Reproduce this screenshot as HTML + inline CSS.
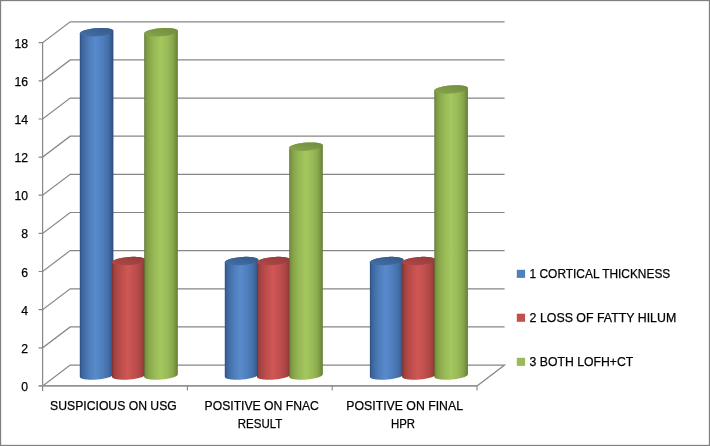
<!DOCTYPE html>
<html><head><meta charset="utf-8"><title>Chart</title>
<style>html,body{margin:0;padding:0;background:#fff;overflow:hidden}</style></head>
<body>
<svg width="710" height="446" viewBox="0 0 710 446" style="display:block">
<defs>
<linearGradient id="gb" x1="0" x2="1" y1="0" y2="0">
<stop offset="0" stop-color="#2a4b7a"/><stop offset="0.05" stop-color="#3a6199"/><stop offset="0.15" stop-color="#4570aa"/><stop offset="0.3" stop-color="#4f7fbd"/><stop offset="0.47" stop-color="#598acb"/><stop offset="0.7" stop-color="#4d7cba"/><stop offset="0.86" stop-color="#426da5"/><stop offset="0.95" stop-color="#365a8e"/><stop offset="1" stop-color="#2a4b7a"/>
</linearGradient>
<linearGradient id="gr" x1="0" x2="1" y1="0" y2="0">
<stop offset="0" stop-color="#782f2d"/><stop offset="0.05" stop-color="#9a3f3d"/><stop offset="0.15" stop-color="#ad4745"/><stop offset="0.3" stop-color="#c04f4d"/><stop offset="0.47" stop-color="#d05755"/><stop offset="0.7" stop-color="#bd4e4c"/><stop offset="0.86" stop-color="#a84543"/><stop offset="0.95" stop-color="#903a38"/><stop offset="1" stop-color="#782f2d"/>
</linearGradient>
<linearGradient id="gg" x1="0" x2="1" y1="0" y2="0">
<stop offset="0" stop-color="#5e7533"/><stop offset="0.05" stop-color="#7a9643"/><stop offset="0.15" stop-color="#89a84c"/><stop offset="0.3" stop-color="#98b956"/><stop offset="0.5" stop-color="#a4c75e"/><stop offset="0.7" stop-color="#99ba57"/><stop offset="0.86" stop-color="#87a64b"/><stop offset="0.95" stop-color="#738d3f"/><stop offset="1" stop-color="#5e7533"/>
</linearGradient>
<linearGradient id="tb" x1="0" x2="1" y1="1" y2="0"><stop offset="0" stop-color="#4470a8"/><stop offset="1" stop-color="#355988"/></linearGradient>
<linearGradient id="tr" x1="0" x2="1" y1="1" y2="0"><stop offset="0" stop-color="#b04a48"/><stop offset="1" stop-color="#923b39"/></linearGradient>
<linearGradient id="tg" x1="0" x2="1" y1="1" y2="0"><stop offset="0" stop-color="#87a64b"/><stop offset="1" stop-color="#708a3d"/></linearGradient>
</defs>
<rect x="0" y="0" width="710" height="446" fill="#fff"/>
<g fill="none" stroke="#868686" stroke-width="1.2">
<path d="M38.6 347.8H42.6L70.2 326.9H504.6"/>
<path d="M38.6 309.7H42.6L70.2 288.8H504.6"/>
<path d="M38.6 271.5H42.6L70.2 250.6H504.6"/>
<path d="M38.6 233.4H42.6L70.2 212.5H504.6"/>
<path d="M38.6 195.2H42.6L70.2 174.3H504.6"/>
<path d="M38.6 157.1H42.6L70.2 136.2H504.6"/>
<path d="M38.6 119.0H42.6L70.2 98.1H504.6"/>
<path d="M38.6 80.8H42.6L70.2 59.9H504.6"/>
<path d="M38.6 42.7H42.6L70.2 21.8H504.6"/>
<path d="M42.6 385.9L70.2 365.1H504.6L477.0 385.9"/>
<path d="M42.6 390.9V42.7"/>
</g>
<path d="M79.80 376.74L79.85 377.05L80.01 377.36L80.26 377.65L80.62 377.93L81.08 378.20L81.63 378.45L82.28 378.68L83.01 378.89L83.83 379.08L84.72 379.25L85.69 379.39L86.73 379.52L87.82 379.61L88.97 379.68L90.17 379.73L91.41 379.75L92.68 379.74L93.97 379.71L95.28 379.65L96.60 379.57L97.92 379.46L99.23 379.32L100.52 379.17L101.79 378.99L103.03 378.78L104.23 378.56L105.38 378.32L106.47 378.06L107.51 377.79L108.48 377.50L109.37 377.20L110.19 376.89L110.92 376.57L111.57 376.24L112.12 375.91L112.58 375.58L112.94 375.25L113.19 374.91L113.35 374.59L113.40 374.26L113.40 31.00L113.35 30.69L113.19 30.38L112.94 30.09L112.58 29.81L112.12 29.54L111.57 29.29L110.92 29.06L110.19 28.85L109.37 28.66L108.48 28.49L107.51 28.35L106.47 28.22L105.38 28.13L104.23 28.06L103.03 28.01L101.79 27.99L100.52 28.00L99.23 28.03L97.92 28.09L96.60 28.17L95.28 28.28L93.97 28.42L92.68 28.57L91.41 28.75L90.17 28.96L88.97 29.18L87.82 29.42L86.73 29.68L85.69 29.95L84.72 30.24L83.83 30.54L83.01 30.85L82.28 31.17L81.63 31.50L81.08 31.83L80.62 32.16L80.26 32.49L80.01 32.83L79.85 33.15L79.80 33.48Z" fill="url(#gb)"/>
<path d="M112.67 32.24L113.10 31.80L113.34 31.36L113.40 30.93L113.27 30.51L112.96 30.11L112.48 29.74L111.82 29.40L110.99 29.08L110.00 28.80L108.87 28.56L107.60 28.36L106.22 28.20L104.72 28.08L103.14 28.01L101.49 27.99L99.78 28.01L98.04 28.08L96.28 28.20L94.53 28.36L92.80 28.56L91.11 28.80L89.48 29.08L87.93 29.40L86.47 29.74L85.12 30.11L83.90 30.51L82.82 30.93L81.89 31.36L81.13 31.80L80.53 32.24L80.10 32.68L79.86 33.12L79.80 33.55L79.93 33.97L80.24 34.36L80.72 34.74L81.38 35.08L82.21 35.40L83.20 35.68L84.33 35.92L85.60 36.12L86.98 36.28L88.48 36.40L90.06 36.47L91.71 36.49L93.42 36.47L95.16 36.40L96.92 36.28L98.67 36.12L100.40 35.92L102.09 35.68L103.72 35.40L105.27 35.08L106.73 34.74L108.08 34.36L109.30 33.97L110.38 33.55L111.31 33.12L112.07 32.68Z" fill="url(#tb)"/>
<path d="M112.00 376.74L112.05 377.05L112.21 377.36L112.46 377.65L112.82 377.93L113.28 378.20L113.83 378.45L114.48 378.68L115.21 378.89L116.03 379.08L116.92 379.25L117.89 379.39L118.93 379.52L120.02 379.61L121.17 379.68L122.37 379.73L123.61 379.75L124.88 379.74L126.17 379.71L127.48 379.65L128.80 379.57L130.12 379.46L131.43 379.32L132.72 379.17L133.99 378.99L135.23 378.78L136.43 378.56L137.58 378.32L138.67 378.06L139.71 377.79L140.68 377.50L141.57 377.20L142.39 376.89L143.12 376.57L143.77 376.24L144.32 375.91L144.78 375.58L145.14 375.25L145.39 374.91L145.55 374.59L145.60 374.26L145.60 259.84L145.55 259.53L145.39 259.22L145.14 258.93L144.78 258.65L144.32 258.38L143.77 258.13L143.12 257.90L142.39 257.69L141.57 257.50L140.68 257.33L139.71 257.19L138.67 257.06L137.58 256.97L136.43 256.90L135.23 256.85L133.99 256.83L132.72 256.84L131.43 256.87L130.12 256.93L128.80 257.01L127.48 257.12L126.17 257.26L124.88 257.41L123.61 257.59L122.37 257.80L121.17 258.02L120.02 258.26L118.93 258.52L117.89 258.79L116.92 259.08L116.03 259.38L115.21 259.69L114.48 260.01L113.83 260.34L113.28 260.67L112.82 261.00L112.46 261.33L112.21 261.67L112.05 261.99L112.00 262.32Z" fill="url(#gr)"/>
<path d="M144.87 261.08L145.30 260.64L145.54 260.20L145.60 259.77L145.47 259.35L145.16 258.95L144.68 258.58L144.02 258.24L143.19 257.92L142.20 257.64L141.07 257.40L139.80 257.20L138.42 257.04L136.92 256.92L135.34 256.85L133.69 256.83L131.98 256.85L130.24 256.92L128.48 257.04L126.73 257.20L125.00 257.40L123.31 257.64L121.68 257.92L120.13 258.24L118.67 258.58L117.32 258.95L116.10 259.35L115.02 259.77L114.09 260.20L113.33 260.64L112.73 261.08L112.30 261.52L112.06 261.96L112.00 262.39L112.13 262.81L112.44 263.20L112.92 263.58L113.58 263.92L114.41 264.24L115.40 264.52L116.53 264.76L117.80 264.96L119.18 265.12L120.68 265.24L122.26 265.31L123.91 265.33L125.62 265.31L127.36 265.24L129.12 265.12L130.87 264.96L132.60 264.76L134.29 264.52L135.92 264.24L137.47 263.92L138.93 263.58L140.28 263.20L141.50 262.81L142.58 262.39L143.51 261.96L144.27 261.52Z" fill="url(#tr)"/>
<path d="M144.20 376.74L144.25 377.05L144.41 377.36L144.66 377.65L145.02 377.93L145.48 378.20L146.03 378.45L146.68 378.68L147.41 378.89L148.23 379.08L149.12 379.25L150.09 379.39L151.13 379.52L152.22 379.61L153.37 379.68L154.57 379.73L155.81 379.75L157.08 379.74L158.37 379.71L159.68 379.65L161.00 379.57L162.32 379.46L163.63 379.32L164.92 379.17L166.19 378.99L167.43 378.78L168.63 378.56L169.78 378.32L170.87 378.06L171.91 377.79L172.88 377.50L173.77 377.20L174.59 376.89L175.32 376.57L175.97 376.24L176.52 375.91L176.98 375.58L177.34 375.25L177.59 374.91L177.75 374.59L177.80 374.26L177.80 31.00L177.75 30.69L177.59 30.38L177.34 30.09L176.98 29.81L176.52 29.54L175.97 29.29L175.32 29.06L174.59 28.85L173.77 28.66L172.88 28.49L171.91 28.35L170.87 28.22L169.78 28.13L168.63 28.06L167.43 28.01L166.19 27.99L164.92 28.00L163.63 28.03L162.32 28.09L161.00 28.17L159.68 28.28L158.37 28.42L157.08 28.57L155.81 28.75L154.57 28.96L153.37 29.18L152.22 29.42L151.13 29.68L150.09 29.95L149.12 30.24L148.23 30.54L147.41 30.85L146.68 31.17L146.03 31.50L145.48 31.83L145.02 32.16L144.66 32.49L144.41 32.83L144.25 33.15L144.20 33.48Z" fill="url(#gg)"/>
<path d="M177.07 32.24L177.50 31.80L177.74 31.36L177.80 30.93L177.67 30.51L177.36 30.11L176.88 29.74L176.22 29.40L175.39 29.08L174.40 28.80L173.27 28.56L172.00 28.36L170.62 28.20L169.12 28.08L167.54 28.01L165.89 27.99L164.18 28.01L162.44 28.08L160.68 28.20L158.93 28.36L157.20 28.56L155.51 28.80L153.88 29.08L152.33 29.40L150.87 29.74L149.52 30.11L148.30 30.51L147.22 30.93L146.29 31.36L145.53 31.80L144.93 32.24L144.50 32.68L144.26 33.12L144.20 33.55L144.33 33.97L144.64 34.36L145.12 34.74L145.78 35.08L146.61 35.40L147.60 35.68L148.73 35.92L150.00 36.12L151.38 36.28L152.88 36.40L154.46 36.47L156.11 36.49L157.82 36.47L159.56 36.40L161.32 36.28L163.07 36.12L164.80 35.92L166.49 35.68L168.12 35.40L169.67 35.08L171.13 34.74L172.48 34.36L173.70 33.97L174.78 33.55L175.71 33.12L176.47 32.68Z" fill="url(#tg)"/>
<path d="M224.80 376.74L224.85 377.05L225.01 377.36L225.26 377.65L225.62 377.93L226.08 378.20L226.63 378.45L227.28 378.68L228.01 378.89L228.83 379.08L229.72 379.25L230.69 379.39L231.73 379.52L232.82 379.61L233.97 379.68L235.17 379.73L236.41 379.75L237.68 379.74L238.97 379.71L240.28 379.65L241.60 379.57L242.92 379.46L244.23 379.32L245.52 379.17L246.79 378.99L248.03 378.78L249.23 378.56L250.38 378.32L251.47 378.06L252.51 377.79L253.48 377.50L254.37 377.20L255.19 376.89L255.92 376.57L256.57 376.24L257.12 375.91L257.58 375.58L257.94 375.25L258.19 374.91L258.35 374.59L258.40 374.26L258.40 259.84L258.35 259.53L258.19 259.22L257.94 258.93L257.58 258.65L257.12 258.38L256.57 258.13L255.92 257.90L255.19 257.69L254.37 257.50L253.48 257.33L252.51 257.19L251.47 257.06L250.38 256.97L249.23 256.90L248.03 256.85L246.79 256.83L245.52 256.84L244.23 256.87L242.92 256.93L241.60 257.01L240.28 257.12L238.97 257.26L237.68 257.41L236.41 257.59L235.17 257.80L233.97 258.02L232.82 258.26L231.73 258.52L230.69 258.79L229.72 259.08L228.83 259.38L228.01 259.69L227.28 260.01L226.63 260.34L226.08 260.67L225.62 261.00L225.26 261.33L225.01 261.67L224.85 261.99L224.80 262.32Z" fill="url(#gb)"/>
<path d="M257.67 261.08L258.10 260.64L258.34 260.20L258.40 259.77L258.27 259.35L257.96 258.95L257.48 258.58L256.82 258.24L255.99 257.92L255.00 257.64L253.87 257.40L252.60 257.20L251.22 257.04L249.72 256.92L248.14 256.85L246.49 256.83L244.78 256.85L243.04 256.92L241.28 257.04L239.53 257.20L237.80 257.40L236.11 257.64L234.48 257.92L232.93 258.24L231.47 258.58L230.12 258.95L228.90 259.35L227.82 259.77L226.89 260.20L226.13 260.64L225.53 261.08L225.10 261.52L224.86 261.96L224.80 262.39L224.93 262.81L225.24 263.20L225.72 263.58L226.38 263.92L227.21 264.24L228.20 264.52L229.33 264.76L230.60 264.96L231.98 265.12L233.48 265.24L235.06 265.31L236.71 265.33L238.42 265.31L240.16 265.24L241.92 265.12L243.67 264.96L245.40 264.76L247.09 264.52L248.72 264.24L250.27 263.92L251.73 263.58L253.08 263.20L254.30 262.81L255.38 262.39L256.31 261.96L257.07 261.52Z" fill="url(#tb)"/>
<path d="M257.00 376.74L257.05 377.05L257.21 377.36L257.46 377.65L257.82 377.93L258.28 378.20L258.83 378.45L259.48 378.68L260.21 378.89L261.03 379.08L261.92 379.25L262.89 379.39L263.93 379.52L265.02 379.61L266.17 379.68L267.37 379.73L268.61 379.75L269.88 379.74L271.17 379.71L272.48 379.65L273.80 379.57L275.12 379.46L276.43 379.32L277.72 379.17L278.99 378.99L280.23 378.78L281.43 378.56L282.58 378.32L283.67 378.06L284.71 377.79L285.68 377.50L286.57 377.20L287.39 376.89L288.12 376.57L288.77 376.24L289.32 375.91L289.78 375.58L290.14 375.25L290.39 374.91L290.55 374.59L290.60 374.26L290.60 259.84L290.55 259.53L290.39 259.22L290.14 258.93L289.78 258.65L289.32 258.38L288.77 258.13L288.12 257.90L287.39 257.69L286.57 257.50L285.68 257.33L284.71 257.19L283.67 257.06L282.58 256.97L281.43 256.90L280.23 256.85L278.99 256.83L277.72 256.84L276.43 256.87L275.12 256.93L273.80 257.01L272.48 257.12L271.17 257.26L269.88 257.41L268.61 257.59L267.37 257.80L266.17 258.02L265.02 258.26L263.93 258.52L262.89 258.79L261.92 259.08L261.03 259.38L260.21 259.69L259.48 260.01L258.83 260.34L258.28 260.67L257.82 261.00L257.46 261.33L257.21 261.67L257.05 261.99L257.00 262.32Z" fill="url(#gr)"/>
<path d="M289.87 261.08L290.30 260.64L290.54 260.20L290.60 259.77L290.47 259.35L290.16 258.95L289.68 258.58L289.02 258.24L288.19 257.92L287.20 257.64L286.07 257.40L284.80 257.20L283.42 257.04L281.92 256.92L280.34 256.85L278.69 256.83L276.98 256.85L275.24 256.92L273.48 257.04L271.73 257.20L270.00 257.40L268.31 257.64L266.68 257.92L265.13 258.24L263.67 258.58L262.32 258.95L261.10 259.35L260.02 259.77L259.09 260.20L258.33 260.64L257.73 261.08L257.30 261.52L257.06 261.96L257.00 262.39L257.13 262.81L257.44 263.20L257.92 263.58L258.58 263.92L259.41 264.24L260.40 264.52L261.53 264.76L262.80 264.96L264.18 265.12L265.68 265.24L267.26 265.31L268.91 265.33L270.62 265.31L272.36 265.24L274.12 265.12L275.87 264.96L277.60 264.76L279.29 264.52L280.92 264.24L282.47 263.92L283.93 263.58L285.28 263.20L286.50 262.81L287.58 262.39L288.51 261.96L289.27 261.52Z" fill="url(#tr)"/>
<path d="M289.20 376.74L289.25 377.05L289.41 377.36L289.66 377.65L290.02 377.93L290.48 378.20L291.03 378.45L291.68 378.68L292.41 378.89L293.23 379.08L294.12 379.25L295.09 379.39L296.13 379.52L297.22 379.61L298.37 379.68L299.57 379.73L300.81 379.75L302.08 379.74L303.37 379.71L304.68 379.65L306.00 379.57L307.32 379.46L308.63 379.32L309.92 379.17L311.19 378.99L312.43 378.78L313.63 378.56L314.78 378.32L315.87 378.06L316.91 377.79L317.88 377.50L318.77 377.20L319.59 376.89L320.32 376.57L320.97 376.24L321.52 375.91L321.98 375.58L322.34 375.25L322.59 374.91L322.75 374.59L322.80 374.26L322.80 145.42L322.75 145.11L322.59 144.80L322.34 144.51L321.98 144.23L321.52 143.96L320.97 143.71L320.32 143.48L319.59 143.27L318.77 143.08L317.88 142.91L316.91 142.77L315.87 142.64L314.78 142.55L313.63 142.48L312.43 142.43L311.19 142.41L309.92 142.42L308.63 142.45L307.32 142.51L306.00 142.59L304.68 142.70L303.37 142.84L302.08 142.99L300.81 143.17L299.57 143.38L298.37 143.60L297.22 143.84L296.13 144.10L295.09 144.37L294.12 144.66L293.23 144.96L292.41 145.27L291.68 145.59L291.03 145.92L290.48 146.25L290.02 146.58L289.66 146.91L289.41 147.25L289.25 147.57L289.20 147.90Z" fill="url(#gg)"/>
<path d="M322.07 146.66L322.50 146.22L322.74 145.78L322.80 145.35L322.67 144.93L322.36 144.53L321.88 144.16L321.22 143.82L320.39 143.50L319.40 143.22L318.27 142.98L317.00 142.78L315.62 142.62L314.12 142.50L312.54 142.43L310.89 142.41L309.18 142.43L307.44 142.50L305.68 142.62L303.93 142.78L302.20 142.98L300.51 143.22L298.88 143.50L297.33 143.82L295.87 144.16L294.52 144.53L293.30 144.93L292.22 145.35L291.29 145.78L290.53 146.22L289.93 146.66L289.50 147.10L289.26 147.54L289.20 147.97L289.33 148.39L289.64 148.78L290.12 149.16L290.78 149.50L291.61 149.82L292.60 150.10L293.73 150.34L295.00 150.54L296.38 150.70L297.88 150.82L299.46 150.89L301.11 150.91L302.82 150.89L304.56 150.82L306.32 150.70L308.07 150.54L309.80 150.34L311.49 150.10L313.12 149.82L314.67 149.50L316.13 149.16L317.48 148.78L318.70 148.39L319.78 147.97L320.71 147.54L321.47 147.10Z" fill="url(#tg)"/>
<path d="M369.90 376.74L369.95 377.05L370.11 377.36L370.36 377.65L370.72 377.93L371.18 378.20L371.73 378.45L372.38 378.68L373.11 378.89L373.93 379.08L374.82 379.25L375.79 379.39L376.83 379.52L377.92 379.61L379.07 379.68L380.27 379.73L381.51 379.75L382.78 379.74L384.07 379.71L385.38 379.65L386.70 379.57L388.02 379.46L389.33 379.32L390.62 379.17L391.89 378.99L393.13 378.78L394.33 378.56L395.48 378.32L396.57 378.06L397.61 377.79L398.58 377.50L399.47 377.20L400.29 376.89L401.02 376.57L401.67 376.24L402.22 375.91L402.68 375.58L403.04 375.25L403.29 374.91L403.45 374.59L403.50 374.26L403.50 259.84L403.45 259.53L403.29 259.22L403.04 258.93L402.68 258.65L402.22 258.38L401.67 258.13L401.02 257.90L400.29 257.69L399.47 257.50L398.58 257.33L397.61 257.19L396.57 257.06L395.48 256.97L394.33 256.90L393.13 256.85L391.89 256.83L390.62 256.84L389.33 256.87L388.02 256.93L386.70 257.01L385.38 257.12L384.07 257.26L382.78 257.41L381.51 257.59L380.27 257.80L379.07 258.02L377.92 258.26L376.83 258.52L375.79 258.79L374.82 259.08L373.93 259.38L373.11 259.69L372.38 260.01L371.73 260.34L371.18 260.67L370.72 261.00L370.36 261.33L370.11 261.67L369.95 261.99L369.90 262.32Z" fill="url(#gb)"/>
<path d="M402.77 261.08L403.20 260.64L403.44 260.20L403.50 259.77L403.37 259.35L403.06 258.95L402.58 258.58L401.92 258.24L401.09 257.92L400.10 257.64L398.97 257.40L397.70 257.20L396.32 257.04L394.82 256.92L393.24 256.85L391.59 256.83L389.88 256.85L388.14 256.92L386.38 257.04L384.63 257.20L382.90 257.40L381.21 257.64L379.58 257.92L378.03 258.24L376.57 258.58L375.22 258.95L374.00 259.35L372.92 259.77L371.99 260.20L371.23 260.64L370.63 261.08L370.20 261.52L369.96 261.96L369.90 262.39L370.03 262.81L370.34 263.20L370.82 263.58L371.48 263.92L372.31 264.24L373.30 264.52L374.43 264.76L375.70 264.96L377.08 265.12L378.58 265.24L380.16 265.31L381.81 265.33L383.52 265.31L385.26 265.24L387.02 265.12L388.77 264.96L390.50 264.76L392.19 264.52L393.82 264.24L395.37 263.92L396.83 263.58L398.18 263.20L399.40 262.81L400.48 262.39L401.41 261.96L402.17 261.52Z" fill="url(#tb)"/>
<path d="M402.10 376.74L402.15 377.05L402.31 377.36L402.56 377.65L402.92 377.93L403.38 378.20L403.93 378.45L404.58 378.68L405.31 378.89L406.13 379.08L407.02 379.25L407.99 379.39L409.03 379.52L410.12 379.61L411.27 379.68L412.47 379.73L413.71 379.75L414.98 379.74L416.27 379.71L417.58 379.65L418.90 379.57L420.22 379.46L421.53 379.32L422.82 379.17L424.09 378.99L425.33 378.78L426.53 378.56L427.68 378.32L428.77 378.06L429.81 377.79L430.78 377.50L431.67 377.20L432.49 376.89L433.22 376.57L433.87 376.24L434.42 375.91L434.88 375.58L435.24 375.25L435.49 374.91L435.65 374.59L435.70 374.26L435.70 259.84L435.65 259.53L435.49 259.22L435.24 258.93L434.88 258.65L434.42 258.38L433.87 258.13L433.22 257.90L432.49 257.69L431.67 257.50L430.78 257.33L429.81 257.19L428.77 257.06L427.68 256.97L426.53 256.90L425.33 256.85L424.09 256.83L422.82 256.84L421.53 256.87L420.22 256.93L418.90 257.01L417.58 257.12L416.27 257.26L414.98 257.41L413.71 257.59L412.47 257.80L411.27 258.02L410.12 258.26L409.03 258.52L407.99 258.79L407.02 259.08L406.13 259.38L405.31 259.69L404.58 260.01L403.93 260.34L403.38 260.67L402.92 261.00L402.56 261.33L402.31 261.67L402.15 261.99L402.10 262.32Z" fill="url(#gr)"/>
<path d="M434.97 261.08L435.40 260.64L435.64 260.20L435.70 259.77L435.57 259.35L435.26 258.95L434.78 258.58L434.12 258.24L433.29 257.92L432.30 257.64L431.17 257.40L429.90 257.20L428.52 257.04L427.02 256.92L425.44 256.85L423.79 256.83L422.08 256.85L420.34 256.92L418.58 257.04L416.83 257.20L415.10 257.40L413.41 257.64L411.78 257.92L410.23 258.24L408.77 258.58L407.42 258.95L406.20 259.35L405.12 259.77L404.19 260.20L403.43 260.64L402.83 261.08L402.40 261.52L402.16 261.96L402.10 262.39L402.23 262.81L402.54 263.20L403.02 263.58L403.68 263.92L404.51 264.24L405.50 264.52L406.63 264.76L407.90 264.96L409.28 265.12L410.78 265.24L412.36 265.31L414.01 265.33L415.72 265.31L417.46 265.24L419.22 265.12L420.97 264.96L422.70 264.76L424.39 264.52L426.02 264.24L427.57 263.92L429.03 263.58L430.38 263.20L431.60 262.81L432.68 262.39L433.61 261.96L434.37 261.52Z" fill="url(#tr)"/>
<path d="M434.30 376.74L434.35 377.05L434.51 377.36L434.76 377.65L435.12 377.93L435.58 378.20L436.13 378.45L436.78 378.68L437.51 378.89L438.33 379.08L439.22 379.25L440.19 379.39L441.23 379.52L442.32 379.61L443.47 379.68L444.67 379.73L445.91 379.75L447.18 379.74L448.47 379.71L449.78 379.65L451.10 379.57L452.42 379.46L453.73 379.32L455.02 379.17L456.29 378.99L457.53 378.78L458.73 378.56L459.88 378.32L460.97 378.06L462.01 377.79L462.98 377.50L463.87 377.20L464.69 376.89L465.42 376.57L466.07 376.24L466.62 375.91L467.08 375.58L467.44 375.25L467.69 374.91L467.85 374.59L467.90 374.26L467.90 88.21L467.85 87.90L467.69 87.59L467.44 87.30L467.08 87.02L466.62 86.75L466.07 86.50L465.42 86.27L464.69 86.06L463.87 85.87L462.98 85.70L462.01 85.56L460.97 85.43L459.88 85.34L458.73 85.27L457.53 85.22L456.29 85.20L455.02 85.21L453.73 85.24L452.42 85.30L451.10 85.38L449.78 85.49L448.47 85.63L447.18 85.78L445.91 85.96L444.67 86.17L443.47 86.39L442.32 86.63L441.23 86.89L440.19 87.16L439.22 87.45L438.33 87.75L437.51 88.06L436.78 88.38L436.13 88.71L435.58 89.04L435.12 89.37L434.76 89.70L434.51 90.04L434.35 90.36L434.30 90.69Z" fill="url(#gg)"/>
<path d="M467.17 89.45L467.60 89.01L467.84 88.57L467.90 88.14L467.77 87.72L467.46 87.32L466.98 86.95L466.32 86.61L465.49 86.29L464.50 86.01L463.37 85.77L462.10 85.57L460.72 85.41L459.22 85.29L457.64 85.22L455.99 85.20L454.28 85.22L452.54 85.29L450.78 85.41L449.03 85.57L447.30 85.77L445.61 86.01L443.98 86.29L442.43 86.61L440.97 86.95L439.62 87.32L438.40 87.72L437.32 88.14L436.39 88.57L435.63 89.01L435.03 89.45L434.60 89.89L434.36 90.33L434.30 90.76L434.43 91.18L434.74 91.57L435.22 91.95L435.88 92.29L436.71 92.61L437.70 92.89L438.83 93.13L440.10 93.33L441.48 93.49L442.98 93.61L444.56 93.68L446.21 93.70L447.92 93.68L449.66 93.61L451.42 93.49L453.17 93.33L454.90 93.13L456.59 92.89L458.22 92.61L459.77 92.29L461.23 91.95L462.58 91.57L463.80 91.18L464.88 90.76L465.81 90.33L466.57 89.89Z" fill="url(#tg)"/>
<g fill="none" stroke="#868686">
<path d="M38.6 385.9H477.0" stroke-width="1.8" stroke="#939393"/>
<path d="M187.4 385.9V390.4" stroke-width="1.1"/>
<path d="M332.2 385.9V390.4" stroke-width="1.1"/>
<path d="M477.0 385.9V390.4" stroke-width="1.1"/>
</g>
<g font-family="'Liberation Sans', Arial, sans-serif" font-size="13.2" fill="#000" stroke="#000" stroke-width="0.25">
<text x="21.2" y="390.9" textLength="6.8" lengthAdjust="spacingAndGlyphs" text-anchor="start">0</text>
<text x="21.2" y="352.8" textLength="6.8" lengthAdjust="spacingAndGlyphs" text-anchor="start">2</text>
<text x="21.2" y="314.7" textLength="6.8" lengthAdjust="spacingAndGlyphs" text-anchor="start">4</text>
<text x="21.2" y="276.5" textLength="6.8" lengthAdjust="spacingAndGlyphs" text-anchor="start">6</text>
<text x="21.2" y="238.4" textLength="6.8" lengthAdjust="spacingAndGlyphs" text-anchor="start">8</text>
<text x="14.4" y="200.2" textLength="13.6" lengthAdjust="spacingAndGlyphs" text-anchor="start">10</text>
<text x="14.4" y="162.1" textLength="13.6" lengthAdjust="spacingAndGlyphs" text-anchor="start">12</text>
<text x="14.4" y="124.0" textLength="13.6" lengthAdjust="spacingAndGlyphs" text-anchor="start">14</text>
<text x="14.4" y="85.8" textLength="13.6" lengthAdjust="spacingAndGlyphs" text-anchor="start">16</text>
<text x="14.4" y="47.7" textLength="13.6" lengthAdjust="spacingAndGlyphs" text-anchor="start">18</text>
<text x="50.1" y="409.8" textLength="126.7" lengthAdjust="spacingAndGlyphs" text-anchor="start">SUSPICIOUS ON USG</text>
<text x="204.6" y="409.8" textLength="114.3" lengthAdjust="spacingAndGlyphs" text-anchor="start">POSITIVE ON FNAC</text>
<text x="237.8" y="428.3" textLength="44.6" lengthAdjust="spacingAndGlyphs" text-anchor="start">RESULT</text>
<text x="346.3" y="409.8" textLength="116.7" lengthAdjust="spacingAndGlyphs" text-anchor="start">POSITIVE ON FINAL</text>
<text x="390.9" y="428.3" textLength="24.1" lengthAdjust="spacingAndGlyphs" text-anchor="start">HPR</text>
<text x="529.6" y="277.9" textLength="140.7" lengthAdjust="spacingAndGlyphs" text-anchor="start">1 CORTICAL THICKNESS</text>
<text x="529.6" y="321.7" textLength="146.6" lengthAdjust="spacingAndGlyphs" text-anchor="start">2 LOSS OF FATTY HILUM</text>
<text x="529.6" y="365.8" textLength="103.6" lengthAdjust="spacingAndGlyphs" text-anchor="start">3 BOTH LOFH+CT</text>
</g>
<rect x="516.8" y="269.8" width="8.3" height="8.1" fill="#4f81bd"/>
<rect x="516.8" y="313.7" width="8.3" height="8.1" fill="#c0504d"/>
<rect x="516.8" y="357.8" width="8.3" height="8.1" fill="#9bbb59"/>
<rect x="0.5" y="0.5" width="709" height="445" fill="none" stroke="#808080" stroke-width="1.3"/>
</svg>
</body></html>
